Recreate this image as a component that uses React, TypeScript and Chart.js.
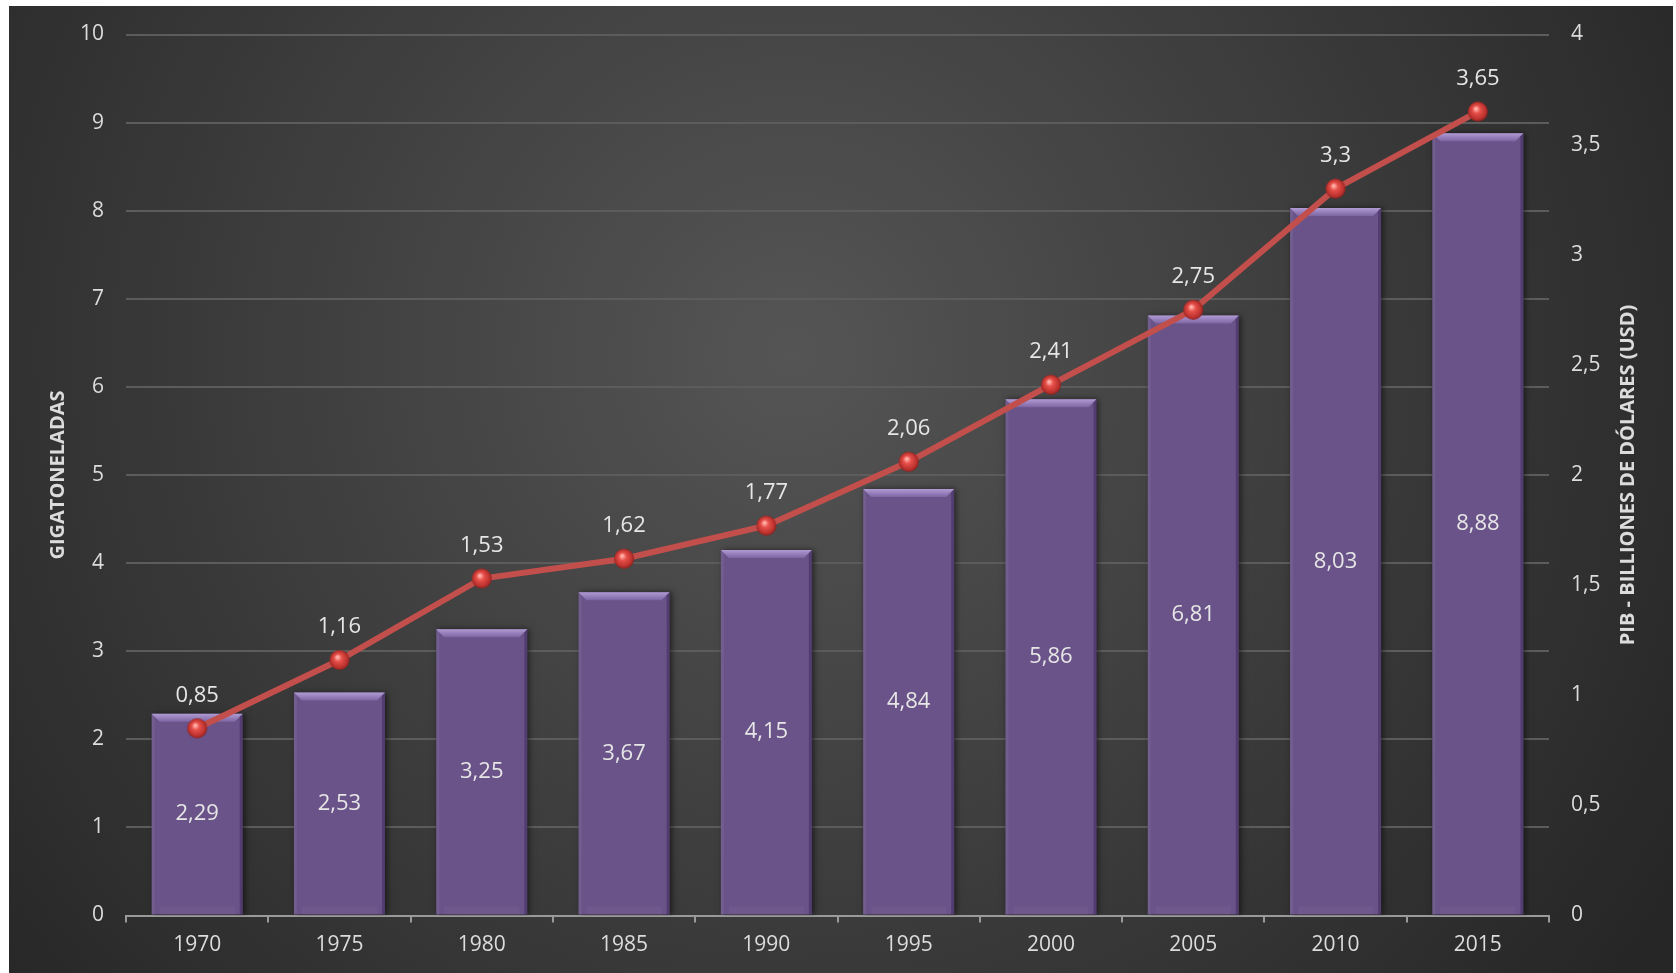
import React, { useEffect, useRef } from "react";
import { Chart, registerables } from "chart.js";

Chart.register(...registerables);

const years = ["1970", "1975", "1980", "1985", "1990", "1995", "2000", "2005", "2010", "2015"];
const gigatoneladas = [2.29, 2.53, 3.25, 3.67, 4.15, 4.84, 5.86, 6.81, 8.03, 8.88];
const pib = [0.85, 1.16, 1.53, 1.62, 1.77, 2.06, 2.41, 2.75, 3.3, 3.65];
const leftTitle = "GIGATONELADAS";
const rightTitle = "PIB - BILLIONES DE DÓLARES (USD)";

const FONT = "'Open Sans', 'Noto Sans', sans-serif";
const TEXT = "#dcdcdc";

const fmt = (v: number) => String(v).replace(".", ",");

function makeSphere(): HTMLCanvasElement {
  const c = document.createElement("canvas");
  const s = 22;
  c.width = s;
  c.height = s;
  const g = c.getContext("2d")!;
  const grad = g.createRadialGradient(9, 8, 1, 11, 11, 10.5);
  grad.addColorStop(0, "#ffb0a8");
  grad.addColorStop(0.3, "#e8504a");
  grad.addColorStop(0.8, "#b8302c");
  grad.addColorStop(1, "#7a1a18");
  g.beginPath();
  g.arc(11, 11, 10, 0, Math.PI * 2);
  g.fillStyle = grad;
  g.fill();
  return c;
}

const bgPlugin = {
  id: "bg",
  beforeDraw(chart: any) {
    const { ctx, width, height } = chart;
    ctx.save();
    const g = ctx.createRadialGradient(width * 0.47, height * 0.36, 0, width * 0.47, height * 0.36, width * 0.62);
    g.addColorStop(0, "#555555");
    g.addColorStop(1, "#262626");
    ctx.fillStyle = g;
    ctx.fillRect(0, 0, width, height);
    ctx.restore();
  },
};

const barStylePlugin = {
  id: "barStyle",
  beforeDatasetDraw(chart: any, args: any) {
    if (args.index !== 0) return;
    const ctx = chart.ctx;
    ctx.save();
    ctx.shadowColor = "rgba(0,0,0,0.55)";
    ctx.shadowBlur = 6;
    ctx.shadowOffsetX = 2;
    ctx.shadowOffsetY = 0;
  },
  afterDatasetDraw(chart: any, args: any) {
    if (args.index !== 0) return;
    const ctx = chart.ctx;
    ctx.restore();
    const meta = chart.getDatasetMeta(0);
    ctx.save();
    meta.data.forEach((el: any) => {
      const L = el.x - el.width / 2;
      const R = el.x + el.width / 2;
      const T = el.y;
      const B = el.base;
      const b = 8;
      const gt = ctx.createLinearGradient(0, T, 0, T + b);
      gt.addColorStop(0, "#b09bd4");
      gt.addColorStop(1, "#7d65a2");
      ctx.beginPath();
      ctx.moveTo(L, T);
      ctx.lineTo(R, T);
      ctx.lineTo(R - b, T + b);
      ctx.lineTo(L + b, T + b);
      ctx.closePath();
      ctx.fillStyle = gt;
      ctx.fill();
      ctx.beginPath();
      ctx.moveTo(R, T);
      ctx.lineTo(R, B);
      ctx.lineTo(R - 3, B);
      ctx.lineTo(R - 3, T + 3);
      ctx.closePath();
      ctx.fillStyle = "rgba(40,20,70,0.35)";
      ctx.fill();
      ctx.beginPath();
      ctx.moveTo(L, T);
      ctx.lineTo(L + 3, T + 3);
      ctx.lineTo(L + 3, B);
      ctx.lineTo(L, B);
      ctx.closePath();
      ctx.fillStyle = "rgba(255,255,255,0.06)";
      ctx.fill();
      ctx.fillStyle = "rgba(255,255,255,0.04)";
      ctx.fillRect(L + 8, B - 8, R - L - 16, 8);
    });
    ctx.restore();
  },
};

const labelPlugin = {
  id: "labels",
  afterDatasetsDraw(chart: any) {
    const ctx = chart.ctx;
    ctx.save();
    ctx.font = `22px ${FONT}`;
    ctx.fillStyle = "#e6e6e6";
    ctx.textAlign = "center";
    ctx.textBaseline = "middle";
    const bars = chart.getDatasetMeta(0);
    bars.data.forEach((el: any, i: number) => {
      ctx.fillText(fmt(gigatoneladas[i]), el.x, (el.y + el.base) / 2);
    });
    const line = chart.getDatasetMeta(1);
    line.data.forEach((el: any, i: number) => {
      ctx.fillText(fmt(pib[i]), el.x, el.y - 33);
    });
    const ca = chart.chartArea;
    const cy = (ca.top + ca.bottom) / 2;
    ctx.font = `bold 20px ${FONT}`;
    ctx.fillStyle = TEXT;
    ctx.save();
    ctx.translate(49, cy);
    ctx.rotate(-Math.PI / 2);
    ctx.fillText(leftTitle, 0, 0);
    ctx.restore();
    ctx.save();
    ctx.translate(1619, cy);
    ctx.rotate(-Math.PI / 2);
    ctx.fillText(rightTitle, 0, 0);
    ctx.restore();
    ctx.restore();
  },
};

export default function App() {
  const ref = useRef<HTMLCanvasElement>(null);
  useEffect(() => {
    const sphere = makeSphere();
    const chart = new Chart(ref.current!, {
      type: "bar",
      data: {
        labels: years,
        datasets: [
          {
            type: "bar",
            data: gigatoneladas,
            backgroundColor: "#6a5388",
            yAxisID: "y",
            barPercentage: 0.64,
            categoryPercentage: 1,
            order: 1,
          },
          {
            type: "line",
            data: pib,
            borderColor: "#c24f4b",
            borderWidth: 6,
            yAxisID: "y1",
            pointStyle: sphere as any,
            pointRadius: 10,
            order: 0,
          } as any,
        ],
      },
      options: {
        animation: false,
        responsive: false,
        maintainAspectRatio: false,
        layout: { autoPadding: false, padding: { top: 28.5, left: 0, right: 0, bottom: 0 } },
        plugins: { legend: { display: false }, tooltip: { enabled: false } },
        scales: {
          x: {
            offset: true,
            grid: {
              offset: true,
              drawOnChartArea: false,
              drawTicks: true,
              tickLength: 7,
              color: "#9a9a9a",
              lineWidth: 2,
            },
            border: { color: "#9a9a9a", width: 2 },
            ticks: { color: TEXT, font: { family: FONT, size: 21 }, padding: 10 },
            afterFit: (s: any) => {
              s.height = 57.5;
            },
          },
          y: {
            position: "left",
            min: 0,
            max: 10,
            ticks: { stepSize: 1, color: TEXT, font: { family: FONT, size: 21 }, padding: 22 },
            grid: { color: "#5c5c5c", lineWidth: 2, drawTicks: false },
            border: { display: false },
            afterFit: (s: any) => {
              s.width = 117;
              s.paddingTop = 0;
              s.paddingBottom = 0;
            },
          },
          y1: {
            position: "right",
            min: 0,
            max: 4,
            ticks: {
              stepSize: 0.5,
              color: TEXT,
              font: { family: FONT, size: 21 },
              padding: 22,
              callback: (v: any) => fmt(Number(v)),
            },
            grid: { display: false, drawTicks: false },
            border: { display: false },
            afterFit: (s: any) => {
              s.width = 124;
              s.paddingTop = 0;
              s.paddingBottom = 0;
            },
          },
        },
      } as any,
      plugins: [bgPlugin, barStylePlugin, labelPlugin],
    });
    return () => chart.destroy();
  }, []);
  return (
    <div style={{ position: "fixed", left: 9, top: 6, width: 1664, height: 967 }}>
      <canvas ref={ref} width={1664} height={967} style={{ display: "block", width: 1664, height: 967 }} />
    </div>
  );
}
